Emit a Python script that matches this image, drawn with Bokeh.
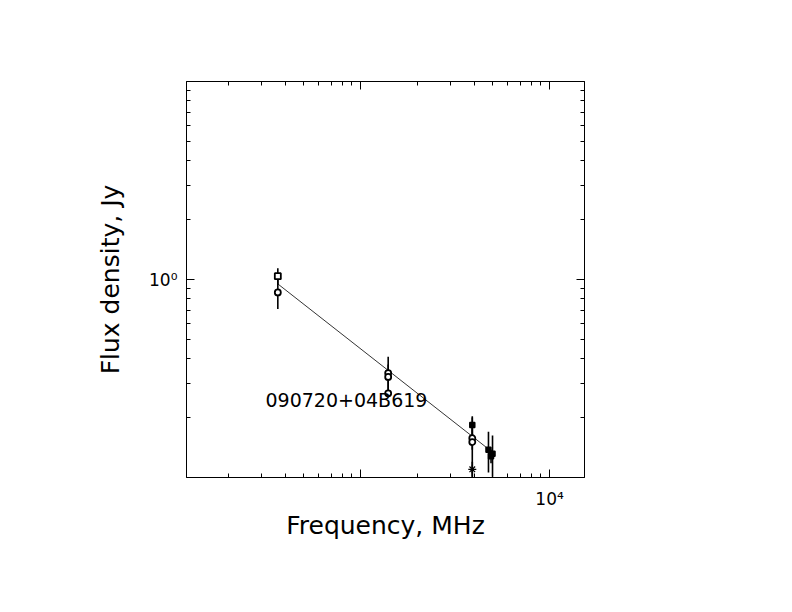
from bokeh.plotting import figure
from bokeh.models import Range1d, LogAxis, FixedTicker, Label
from bokeh.embed import file_html
from bokeh.resources import INLINE

# ---- data (frequency in MHz, flux density in Jy) ----
open_sq_freq = [365]
open_sq_flux = [1.04]
open_sq_err = [0.10]

open_c_freq = [365, 1400, 1400, 1400, 3900, 3900]
open_c_flux = [0.86, 0.337, 0.322, 0.266, 0.158, 0.151]
open_c_err = [0.15, 0.07, 0.05, 0.01, 0.02, 0.05]

star_freq = [3900]
star_flux = [0.11]
star_err = [0.01]

filled_freq = [3900, 4750, 4900, 4990]
filled_flux = [0.184, 0.138, 0.128, 0.132]
filled_err = [0.02, 0.032, 0.01, 0.031]

fit_freq = [365, 4900]
fit_flux = [0.95, 0.136]

source_name = "090720+04B619"
name_pos = (314, 0.245)

x_major = [1000, 10000]
x_minor = [200, 300, 400, 500, 600, 700, 800, 900,
           2000, 3000, 4000, 5000, 6000, 7000, 8000, 9000]
y_major = [1]
y_minor = [0.2, 0.3, 0.4, 0.5, 0.6, 0.7, 0.8, 0.9,
           2, 3, 4, 5, 6, 7, 8, 9]
x_labels = {1000: " ", 10000: "10\u2074"}
y_labels = {1: "10\u2070"}

FONT = "DejaVu Sans"

p = figure(x_axis_type="log", y_axis_type="log",
           x_range=Range1d(120, 15300), y_range=Range1d(0.1, 10),
           frame_width=398, frame_height=396,
           min_border_left=186, min_border_right=188,
           min_border_top=81, min_border_bottom=115,
           output_backend="svg", toolbar_location=None,
           background_fill_color="white", border_fill_color="white")
p.grid.visible = False
p.outline_line_color = "black"
p.outline_line_width = 1

xa = p.xaxis[0]
ya = p.yaxis[0]
xa.ticker = FixedTicker(ticks=x_major, minor_ticks=x_minor)
ya.ticker = FixedTicker(ticks=y_major, minor_ticks=y_minor)
xa.major_label_overrides = x_labels
ya.major_label_overrides = y_labels
xa.axis_label = "Frequency, MHz"
ya.axis_label = "Flux density, Jy"

for ax in (xa, ya):
    ax.axis_line_color = "black"
    ax.axis_line_width = 1
    ax.major_tick_line_color = "black"
    ax.minor_tick_line_color = "black"
    ax.major_tick_in = 8
    ax.major_tick_out = 0
    ax.minor_tick_in = 4
    ax.minor_tick_out = 0
    ax.major_label_text_font = FONT
    ax.major_label_text_font_size = "17px"
    ax.major_label_text_color = "black"
    ax.axis_label_text_font = FONT
    ax.axis_label_text_font_size = "25px"
    ax.axis_label_text_font_style = "normal"
    ax.axis_label_text_color = "black"

ya.major_label_standoff = 9
ya.major_label_orientation = "horizontal"
ya.axis_label_standoff = 21
xa.major_label_standoff = 11
xa.axis_label_standoff = -1

# top / right frame axes (ticks only)
top = LogAxis(ticker=FixedTicker(ticks=x_major, minor_ticks=x_minor))
right = LogAxis(ticker=FixedTicker(ticks=y_major, minor_ticks=y_minor))
for ax in (top, right):
    ax.major_label_text_alpha = 0
    ax.major_label_text_font_size = "8px"
    ax.major_label_standoff = 0
    ax.major_tick_in = 8
    ax.major_tick_out = 0
    ax.minor_tick_in = 4
    ax.minor_tick_out = 0
    ax.axis_line_color = "black"
    ax.major_tick_line_color = "black"
    ax.minor_tick_line_color = "black"
p.add_layout(top, "above")
p.add_layout(right, "right")

# fitted spectrum
p.line(fit_freq, fit_flux, line_color="black", line_width=0.8)

# error bars and markers
def errbars(fr, fl, er):
    p.segment(x0=fr, x1=fr,
              y0=[f - e for f, e in zip(fl, er)],
              y1=[f + e for f, e in zip(fl, er)],
              line_color="black", line_width=1.6)

errbars(open_sq_freq, open_sq_flux, open_sq_err)
errbars(open_c_freq, open_c_flux, open_c_err)
errbars(star_freq, star_flux, star_err)
errbars(filled_freq, filled_flux, filled_err)

p.scatter(open_sq_freq, open_sq_flux, marker="square", size=6,
          fill_color="white", line_color="black", line_width=1.8)
p.scatter(open_c_freq, open_c_flux, marker="circle", size=6,
          fill_color="white", line_color="black", line_width=1.8)
p.scatter(star_freq, star_flux, marker="asterisk", size=8,
          line_color="black", line_width=1.2)
p.scatter(filled_freq, filled_flux, marker="square", size=5,
          fill_color="black", line_color="black", line_width=1.5)

p.add_layout(Label(x=name_pos[0], y=name_pos[1], text=source_name,
                   text_font=FONT, text_font_size="19px",
                   text_color="black", text_baseline="alphabetic",
                   text_align="left"))

open("out.html", "w").write(file_html(p, INLINE))
